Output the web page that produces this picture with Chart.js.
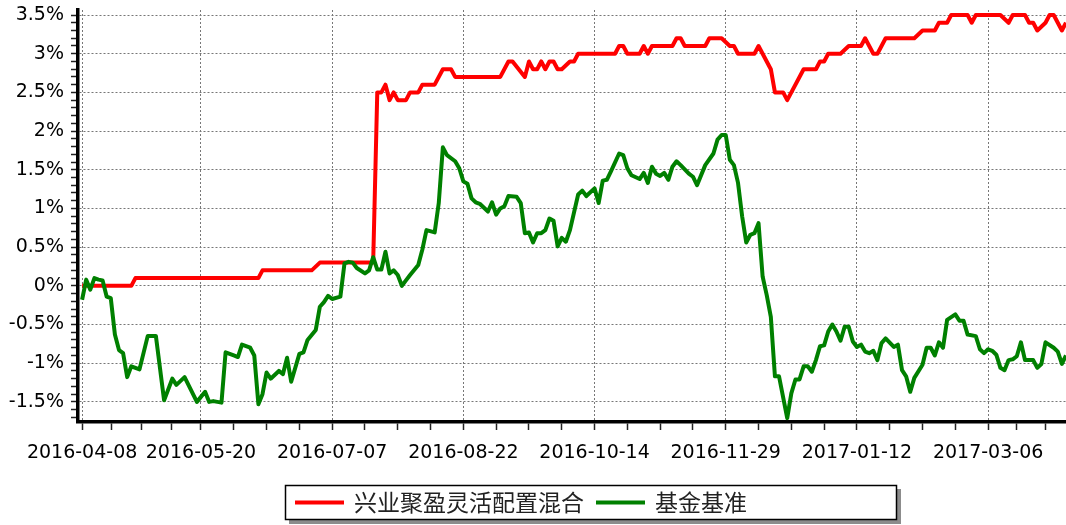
<!DOCTYPE html>
<html>
<head>
<meta charset="utf-8">
<script src="https://cdn.jsdelivr.net/npm/chart.js@4.4.1/dist/chart.umd.min.js"></script>
<style>
  html, body { margin: 0; padding: 0; background: #fff; }
</style>
</head>
<body>
<canvas id="navChart" width="1066" height="525"></canvas>
<script>
// x axis = trading day index since 2016-04-08
var tickDays = [0, 29, 61, 93, 125, 157, 189, 221];
var tickDates = ['2016-04-08', '2016-05-20', '2016-07-07', '2016-08-22', '2016-10-14', '2016-11-29', '2017-01-12', '2017-03-06'];
var minorDays = [7.25, 14.5, 21.75, 37, 45, 53, 69, 77, 85, 101, 109, 117, 133, 141, 149, 165, 173, 181, 197, 205, 213, 228, 235];

var yTicks = [-1.5, -1, -0.5, 0, 0.5, 1, 1.5, 2, 2.5, 3, 3.5];
var yTickText = ['-1.5%', '-1%', '-0.5%', '0%', '0.5%', '1%', '1.5%', '2%', '2.5%', '3%', '3.5%'];

var seriesNames = ['兴业聚盈灵活配置混合', '基金基准'];

// fund cumulative return (%), turning points
var fundDays = [0, 12, 13, 43, 44, 56, 58, 71, 72, 73, 74, 75, 76, 77, 79, 80, 82, 83, 86, 88, 90, 91, 102, 104, 105,
  108, 109, 110, 111, 112, 113, 114, 115, 116, 117, 119, 120, 121, 130, 131, 132, 133, 136, 137, 138, 139, 144, 145, 146,
  147, 152, 153, 156, 158, 159, 160, 164, 165, 168, 169, 171, 172, 176, 179, 180, 181, 182, 185, 187, 190, 191, 193, 194,
  196, 203, 205, 208, 209, 211, 212, 216, 217, 218, 224, 226, 227, 230, 231, 232, 233, 235, 236, 237, 239, 240];
var fundPct = [0, 0, 0.1, 0.1, 0.2, 0.2, 0.3, 0.3, 2.5, 2.5, 2.6, 2.4, 2.5, 2.4, 2.4, 2.5, 2.5, 2.6, 2.6, 2.8, 2.8, 2.7, 2.7, 2.9, 2.9,
  2.7, 2.9, 2.8, 2.8, 2.9, 2.8, 2.9, 2.9, 2.8, 2.8, 2.9, 2.9, 3.0, 3.0, 3.1, 3.1, 3.0, 3.0, 3.1, 3.0, 3.1, 3.1, 3.2, 3.2,
  3.1, 3.1, 3.2, 3.2, 3.1, 3.1, 3.0, 3.0, 3.1, 2.8, 2.5, 2.5, 2.4, 2.8, 2.8, 2.9, 2.9, 3.0, 3.0, 3.1, 3.1, 3.2, 3.0, 3.0,
  3.2, 3.2, 3.3, 3.3, 3.4, 3.4, 3.5, 3.5, 3.4, 3.5, 3.5, 3.4, 3.5, 3.5, 3.4, 3.4, 3.3, 3.4, 3.5, 3.5, 3.3, 3.4];

// benchmark cumulative return (%)
var benchDays = [0, 1, 2, 3, 4, 5, 6, 7, 8, 9, 10, 11, 12, 14, 16, 18, 20, 22, 23, 25, 28, 30, 31, 32, 34,
  35, 37, 38, 39, 41, 42, 43, 44, 45, 46, 48, 49, 50, 51, 53, 54, 55, 57, 58, 59, 60, 61, 63, 64, 65, 66, 67, 69,
  70, 71, 72, 73, 74, 75, 76, 77, 78, 79, 80, 82, 83, 84, 86, 87, 88, 89, 91, 92, 93, 94, 95, 96, 97, 99,
  100, 101, 102, 103, 104, 106, 107, 108, 109, 110, 111, 112, 113, 114, 115, 116, 117, 118, 119, 121, 122, 123, 125, 126,
  127, 128, 129, 131, 132, 133, 134, 136, 137, 138, 139, 140, 141, 142, 143, 144, 145, 146, 148, 149, 150, 152, 154, 155,
  156, 157, 158, 159, 160, 161, 162, 163, 164, 165, 166, 167, 168, 169, 170, 172, 173, 174, 175, 176, 177, 178, 179, 180,
  181, 182, 183, 184, 185, 186, 187, 188, 189, 190, 191, 192, 193, 194, 195, 196, 198, 199, 200, 201, 202, 203, 205, 206,
  207, 208, 209, 210, 211, 213, 214, 215, 216, 218, 219, 220, 221, 222, 223, 224, 225, 226, 227, 228, 229, 230, 232, 233,
  234, 235, 237, 238, 239, 240];
var benchPct = [-0.18, 0.08, -0.05, 0.1, 0.08, 0.07, -0.14, -0.16, -0.63, -0.83, -0.87, -1.18, -1.04, -1.08, -0.65, -0.65, -1.48, -1.2, -1.28, -1.18, -1.5, -1.37, -1.5, -1.49, -1.51,
  -0.86, -0.9, -0.92, -0.76, -0.8, -0.9, -1.53, -1.4, -1.12, -1.2, -1.1, -1.14, -0.93, -1.24, -0.88, -0.86, -0.7, -0.57, -0.27, -0.21, -0.13, -0.17, -0.14, 0.29, 0.31, 0.3, 0.23, 0.16,
  0.2, 0.37, 0.21, 0.21, 0.44, 0.16, 0.2, 0.14, 0.0, 0.07, 0.14, 0.27, 0.47, 0.72, 0.69, 1.07, 1.79, 1.69, 1.61, 1.52, 1.35, 1.32, 1.13, 1.08, 1.06, 0.96,
  1.08, 0.92, 1.0, 1.03, 1.16, 1.15, 1.07, 0.68, 0.69, 0.56, 0.68, 0.68, 0.72, 0.87, 0.84, 0.51, 0.62, 0.57, 0.72, 1.18, 1.23, 1.16, 1.26, 1.07,
  1.36, 1.37, 1.48, 1.71, 1.69, 1.52, 1.43, 1.38, 1.46, 1.33, 1.54, 1.45, 1.42, 1.46, 1.37, 1.54, 1.61, 1.56, 1.45, 1.41, 1.3, 1.56, 1.71, 1.89,
  1.95, 1.95, 1.63, 1.56, 1.33, 0.9, 0.56, 0.66, 0.68, 0.81, 0.12, -0.12, -0.4, -1.17, -1.17, -1.71, -1.39, -1.21, -1.21, -1.04, -1.04, -1.11, -0.96, -0.78,
  -0.77, -0.59, -0.5, -0.59, -0.71, -0.53, -0.53, -0.72, -0.79, -0.76, -0.85, -0.87, -0.84, -0.96, -0.74, -0.68, -0.79, -0.76, -1.09, -1.17, -1.37, -1.19, -1.02, -0.8,
  -0.8, -0.9, -0.73, -0.8, -0.44, -0.37, -0.45, -0.45, -0.63, -0.65, -0.82, -0.87, -0.82, -0.84, -0.89, -1.06, -1.09, -0.96, -0.95, -0.91, -0.73, -0.96, -0.96, -1.06,
  -1.01, -0.73, -0.8, -0.85, -1.01, -0.9];

function toPoints(days, vals) {
  return days.map(function(d, i) { return { x: d, y: vals[i] }; });
}

function isMajorY(v) {
  return yTicks.some(function(t) { return Math.abs(t - v) < 1e-6; });
}

// boxed legend with a drop shadow under the plot
var boxLegend = {
  id: 'boxLegend',
  afterDraw: function(chart) {
    var ctx = chart.ctx;
    var left = 285, top = 485, w = 612, h = 35;
    ctx.save();
    ctx.fillStyle = '#8c8c8c';
    ctx.fillRect(left + 4, top + 4, w, h);
    ctx.fillStyle = '#fff';
    ctx.fillRect(left, top, w, h);
    ctx.strokeStyle = '#000';
    ctx.lineWidth = 1.5;
    ctx.strokeRect(left + 0.5, top + 0.5, w - 1, h - 1);

    ctx.font = '23px "Noto Sans CJK SC", sans-serif';
    ctx.textBaseline = 'middle';
    var x = left + 10, cy = top + h / 2;
    chart.data.datasets.forEach(function(ds) {
      ctx.strokeStyle = ds.borderColor;
      ctx.lineWidth = 4;
      ctx.beginPath();
      ctx.moveTo(x, cy);
      ctx.lineTo(x + 49, cy);
      ctx.stroke();
      x += 59;
      ctx.fillStyle = '#222';
      ctx.fillText(ds.label, x, cy);
      x += ctx.measureText(ds.label).width + 12;
    });
    ctx.restore();
  }
};

var tickFont = { family: 'DejaVu Sans', size: 19 };
var gridDots = [2, 2];

new Chart(document.getElementById('navChart'), {
  type: 'line',
  data: {
    datasets: [{
      label: seriesNames[0],
      data: toPoints(fundDays, fundPct),
      borderColor: '#ff0000',
      borderWidth: 4,
      pointRadius: 0,
      tension: 0,
      borderJoinStyle: 'round',
      order: 1
    }, {
      label: seriesNames[1],
      data: toPoints(benchDays, benchPct),
      borderColor: '#008000',
      borderWidth: 4,
      pointRadius: 0,
      tension: 0,
      borderJoinStyle: 'round',
      order: 0
    }]
  },
  options: {
    responsive: false,
    animation: false,
    devicePixelRatio: 1,
    layout: { padding: { top: 10, right: 0, bottom: 53, left: 0 } },
    plugins: { legend: { display: false }, tooltip: { enabled: false } },
    scales: {
      x: {
        type: 'linear',
        min: -1,
        max: 240,
        afterBuildTicks: function(scale) {
          var all = tickDays.concat(minorDays).sort(function(a, b) { return a - b; });
          scale.ticks = all.map(function(v) { return { value: v }; });
        },
        afterFit: function(scale) {
          scale.height = 50;
          scale.paddingLeft = 0;
          scale.paddingRight = 0;
        },
        ticks: {
          autoSkip: false,
          maxRotation: 0,
          minRotation: 0,
          padding: 12,
          color: '#000',
          font: tickFont,
          callback: function(value) {
            var k = tickDays.indexOf(value);
            return k >= 0 ? tickDates[k] : '';
          }
        },
        grid: {
          color: function(c) {
            return c.tick && tickDays.indexOf(c.tick.value) >= 0 ? '#777' : 'rgba(0,0,0,0)';
          },
          lineWidth: 1,
          borderDash: gridDots,
          tickColor: '#222',
          tickLength: 8,
          tickWidth: 1.5,
          tickBorderDash: []
        },
        border: { display: true, color: '#000', width: 3.5, dash: gridDots }
      },
      y: {
        min: -1.76,
        max: 3.565,
        afterBuildTicks: function(scale) {
          var vals = [];
          for (var k = -17; k <= 35; k++) vals.push({ value: k / 10 });
          scale.ticks = vals;
        },
        afterFit: function(scale) {
          scale.width = 78;
          scale.paddingTop = 0;
          scale.paddingBottom = 0;
        },
        ticks: {
          autoSkip: false,
          padding: 7,
          color: '#000',
          font: tickFont,
          callback: function(value) {
            for (var i = 0; i < yTicks.length; i++) {
              if (Math.abs(yTicks[i] - value) < 1e-6) return yTickText[i];
            }
            return '';
          }
        },
        grid: {
          color: function(c) {
            return c.tick && isMajorY(c.tick.value) ? '#777' : 'rgba(0,0,0,0)';
          },
          lineWidth: 1,
          borderDash: gridDots,
          tickColor: '#222',
          tickLength: 7,
          tickWidth: 1.5,
          tickBorderDash: []
        },
        border: { display: true, color: '#000', width: 3.5, dash: gridDots }
      }
    }
  },
  plugins: [boxLegend]
});
</script>
</body>
</html>
